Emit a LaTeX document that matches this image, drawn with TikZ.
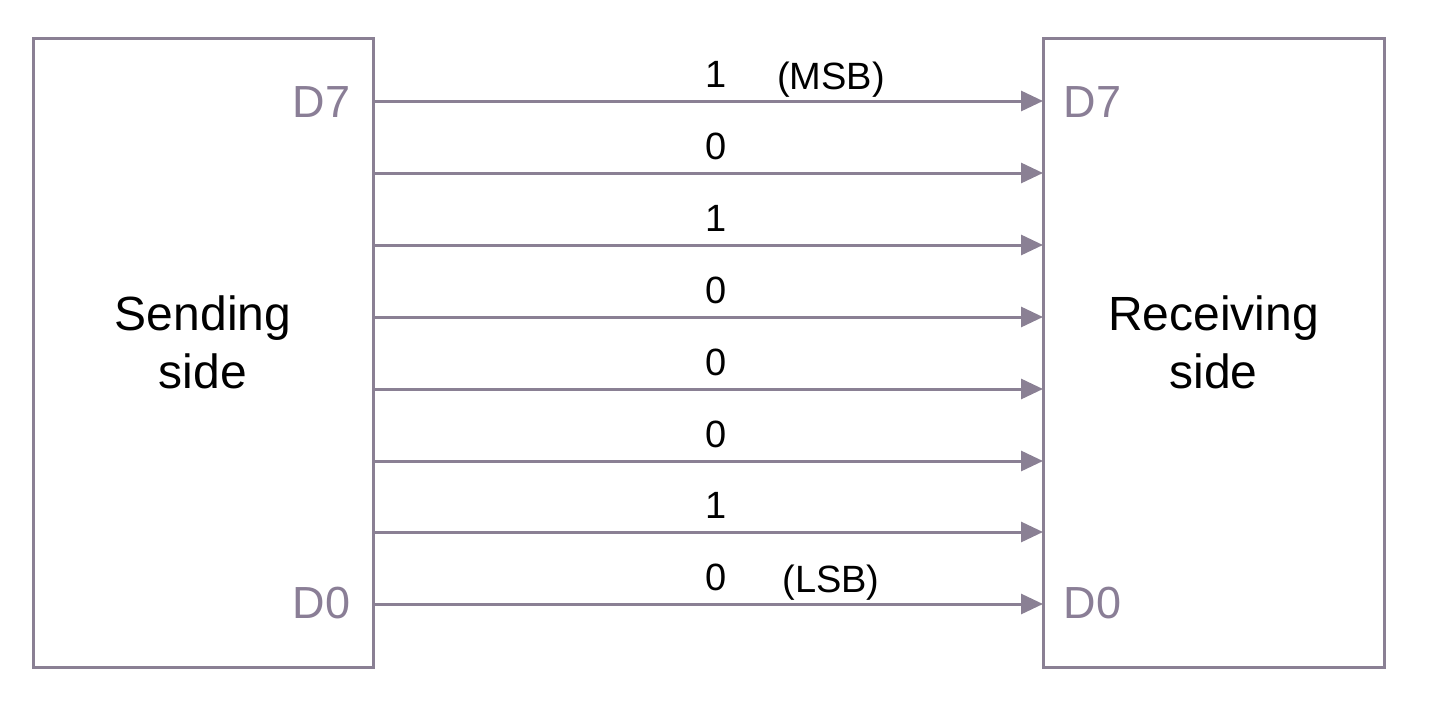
\documentclass[tikz,border=0pt]{standalone}
\usepackage{fontspec}
\setmainfont{Liberation Sans}
\usetikzlibrary{arrows.meta}
\definecolor{ln}{HTML}{8A8094}
\definecolor{dl}{HTML}{8A7E96}
\begin{document}
\begin{tikzpicture}[x=1pt,y=-1pt,
  box/.style={draw=ln,line width=3pt,minimum width=340pt,minimum height=629pt,inner sep=0pt,align=center,font=\fontsize{48}{58}\selectfont},
  wire/.style={draw=ln,line width=3pt,-{Triangle[length=22pt,width=20pt]}},
  bit/.style={font=\fontsize{38}{42}\selectfont,anchor=base},
  dlab/.style={text=dl,font=\fontsize{45}{50}\selectfont,anchor=base}]
\useasboundingbox (0,0) rectangle (1440,712);
\draw[draw=ln,line width=3pt] (33,38) rectangle (373,667);
\draw[draw=ln,line width=3pt] (1043,38) rectangle (1384,667);
\node[align=center,font=\fontsize{48}{58}\selectfont] (S) at (203,342) {Sending\\side};
\node[align=center,font=\fontsize{48}{58}\selectfont] (R) at (1213.5,342) {Receiving\\side};
\foreach \i/\y/\b in {7/101/1,6/173/0,5/245/1,4/317/0,3/389/0,2/461/0,1/532/1,0/604/0}{
  \coordinate (a\i) at (373,\y);
  \coordinate (b\i) at (1043,\y);
  \draw[wire] (a\i) -- (b\i);
  \node[bit] (t\i) at (716,\y-14) {\b};
}
\node[bit] (msb) at (831,89) {(MSB)};
\node[bit] (lsb) at (831,592) {(LSB)};
\node[dlab,anchor=base east] (sd7) at (354,117) {D7};
\node[dlab,anchor=base east] (sd0) at (354,618) {D0};
\node[dlab,anchor=base west] (rd7) at (1060,117) {D7};
\node[dlab,anchor=base west] (rd0) at (1060,618) {D0};
\end{tikzpicture}
\end{document}
